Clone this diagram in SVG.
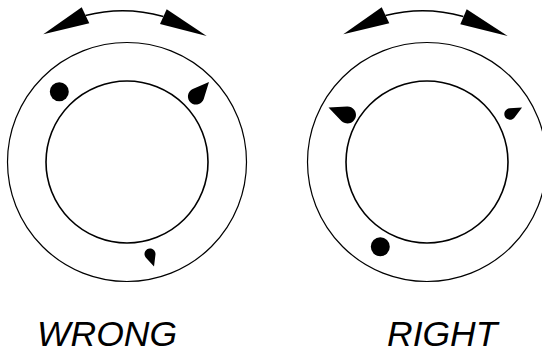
<svg xmlns="http://www.w3.org/2000/svg" width="542" height="352" viewBox="0 0 542 352">
<style>
.outer{fill:none;stroke:#000;stroke-width:1.2}
.inner{fill:none;stroke:#000;stroke-width:1.6}
.arc{fill:none;stroke:#000;stroke-width:1.6}
.blk{fill:#000;stroke:none}
.lbl{font-family:"Liberation Sans",Arial,sans-serif;font-style:italic;font-size:35.5px;fill:#000}
</style>
<defs>
<path id="drop" d="M2.4,0 L0.4167,-0.9091 A1,1 0 1 0 0.4167,0.9091 Z"/>
</defs>
<rect width="542" height="352" fill="#fff"/>
<g id="wrong">
<circle class="outer" cx="127" cy="162" r="119.5"/>
<circle class="inner" cx="127" cy="162" r="81"/>
<g id="wrong-arrow">
<path class="arc" d="M85.5,15.5 A150,150 0 0 1 163.3,16.5"/>
<polygon class="blk" points="43.3,34.3 81.7,7.3 89.3,23.3"/>
<polygon class="blk" points="206.7,36 166.7,9.3 160,24"/>
</g>
<circle class="blk" cx="59.3" cy="91.7" r="9.5"/>
<use href="#drop" class="blk" transform="translate(196,96.5) rotate(-48.1) scale(8.1)"/>
<use href="#drop" class="blk" transform="translate(150,254) rotate(72.3) scale(5.5)"/>
<text class="lbl" x="37" y="346">WRONG</text>
</g>
<g id="right">
<circle class="outer" cx="427" cy="162" r="119.5"/>
<circle class="inner" cx="427" cy="162" r="81"/>
<g id="right-arrow">
<path class="arc" d="M385.5,15.5 A150,150 0 0 1 463.3,16.5"/>
<polygon class="blk" points="343.3,34.3 381.7,7.3 389.3,23.3"/>
<polygon class="blk" points="507.7,36 466.7,9.3 460.3,24.2"/>
</g>
<use href="#drop" class="blk" transform="translate(347.5,115) rotate(201.5) scale(8.5)"/>
<use href="#drop" class="blk" transform="translate(510,114) rotate(-28.4) scale(5.7)"/>
<circle class="blk" cx="380.3" cy="246.7" r="9.5"/>
<text class="lbl" x="387" y="346">RIGHT</text>
</g>
</svg>
